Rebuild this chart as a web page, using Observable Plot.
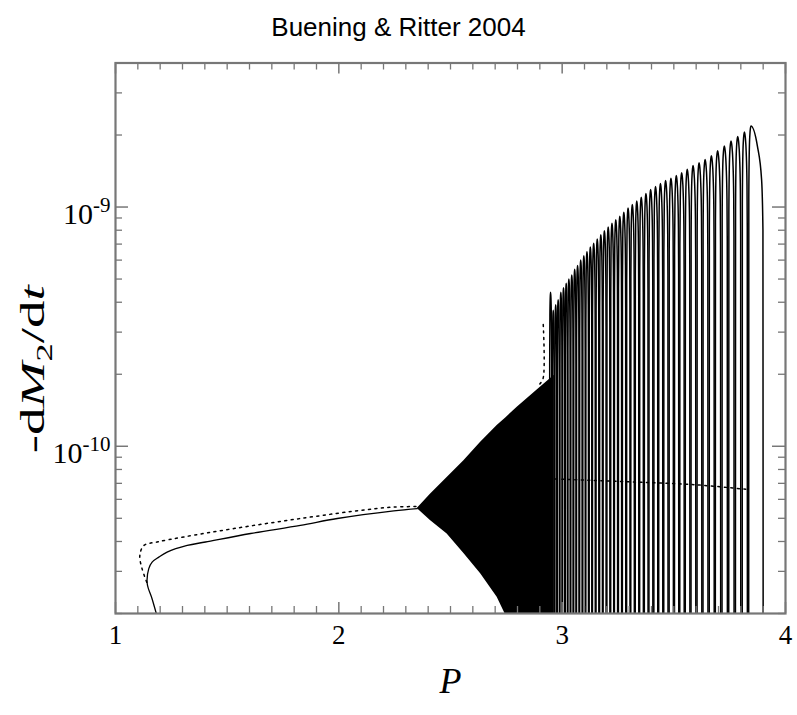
<!DOCTYPE html>
<html><head><meta charset="utf-8">
<script src="https://cdn.jsdelivr.net/npm/d3@7"></script>
<script src="https://cdn.jsdelivr.net/npm/@observablehq/plot@0.6"></script>
<style>
body{margin:0;background:#fff;}
#title{width:797px;height:45px;box-sizing:border-box;padding-top:12px;font-family:"Liberation Sans",Arial,sans-serif;font-size:26px;line-height:30px;text-align:center;color:#000;}
#chart svg{display:block;}
</style></head><body>
<div id="title"></div>
<div id="chart"></div>
<script>
// ---------- texts ----------
const titleText = "Buening & Ritter 2004";
const xLabel = "P";
const yLabel = "-dM2/dt";

// ---------- axes ----------
const xMajorTicks = [1, 2, 3, 4];
const xTickLabels = ["1", "2", "3", "4"];
const xMinorTicks = [1.1,1.2,1.3,1.4,1.5,1.6,1.7,1.8,1.9,2.1,2.2,2.3,2.4,2.5,2.6,2.7,2.8,2.9,3.1,3.2,3.3,3.4,3.5,3.6,3.7,3.8,3.9];
const yMajorTicks = [1e-10, 1e-9];
const yTickLabels = ["10^-10", "10^-9"];
const yMinorTicks = [2e-11,3e-11,4e-11,5e-11,6e-11,7e-11,8e-11,9e-11,2e-10,3e-10,4e-10,5e-10,6e-10,7e-10,8e-10,9e-10,2e-9,3e-9];
const yDomain = [2e-11, 4e-9];

// ---------- solid curve (stable branch, P < 2.35) ----------
const solidP = [1.186, 1.164, 1.142, 1.149, 1.164, 1.194, 1.231, 1.321, 1.403, 1.605, 1.828, 1.993, 2.246, 2.351];
const solidV = [1.95e-11, 2.3e-11, 2.67e-11, 3.08e-11, 3.28e-11, 3.44e-11, 3.61e-11, 3.85e-11, 3.98e-11, 4.32e-11, 4.67e-11, 4.99e-11, 5.37e-11, 5.49e-11];

// ---------- dotted curve (segments) ----------
const dottedP   = [1.140, 1.118, 1.109, 1.127, 1.186, 1.306, 1.530, 1.828, 2.127, 2.246, 2.351,   2.900, 2.915, 2.915,   2.970, 3.300, 3.600, 3.830];
const dottedV   = [2.7e-11, 3.1e-11, 3.5e-11, 3.85e-11, 3.98e-11, 4.18e-11, 4.53e-11, 4.99e-11, 5.44e-11, 5.57e-11, 5.6e-11,   1.82e-10, 1.93e-10, 3.27e-10,   7.3e-11, 7.1e-11, 6.9e-11, 6.6e-11];
const dottedSeg = ["a","a","a","a","a","a","a","a","a","a","a", "b","b","b", "c","c","c","c"];

// ---------- dense oscillation band (2.35 < P < 2.97) ----------
const denseP     = [2.351, 2.410, 2.485, 2.560, 2.635, 2.709, 2.746, 2.800, 2.888, 2.965];
const denseUpper = [5.49e-11, 6.3e-11, 7.4e-11, 8.7e-11, 1.04e-10, 1.22e-10, 1.31e-10, 1.46e-10, 1.72e-10, 1.98e-10];
const denseLower = [5.49e-11, 4.9e-11, 4.3e-11, 3.56e-11, 2.93e-11, 2.34e-11, 1.98e-11, 1.5e-11, 1.5e-11, 1.5e-11];

// ---------- limit-cycle outbursts (P > 2.94): peak positions and peak rates ----------
const peakP = [2.948, 2.960, 2.971, 2.982, 2.994, 3.006, 3.018, 3.030, 3.043, 3.056, 3.069, 3.083, 3.097, 3.111, 3.126, 3.141, 3.157, 3.173, 3.189, 3.206, 3.223, 3.240, 3.258, 3.276, 3.295, 3.314, 3.334, 3.354, 3.375, 3.396, 3.418, 3.440, 3.463, 3.487, 3.511, 3.535, 3.560, 3.586, 3.613, 3.640, 3.668, 3.696, 3.726, 3.756, 3.786, 3.816, 3.845];
const peakV = [4.4e-10, 3.7e-10, 3.9e-10, 4.1e-10, 4.4e-10, 4.6e-10, 4.8e-10, 5.0e-10, 5.2e-10, 5.5e-10, 5.7e-10, 6.0e-10, 6.25e-10, 6.5e-10, 6.8e-10, 7.05e-10, 7.35e-10, 7.65e-10, 7.95e-10, 8.25e-10, 8.55e-10, 8.85e-10, 9.15e-10, 9.5e-10, 9.9e-10, 1.025e-9, 1.06e-9, 1.10e-9, 1.14e-9, 1.185e-9, 1.22e-9, 1.255e-9, 1.29e-9, 1.32e-9, 1.355e-9, 1.39e-9, 1.44e-9, 1.49e-9, 1.53e-9, 1.58e-9, 1.64e-9, 1.72e-9, 1.80e-9, 1.89e-9, 1.97e-9, 2.06e-9, 2.18e-9];
// decline of the final outburst
const tailP = [3.874, 3.893, 3.899, 3.900];
const tailV = [1.8e-9, 1.3e-9, 8e-10, 1.5e-11];

// ---------- build tables ----------
const FLOOR = 1.5e-11; // below the axis bottom (clipped)
const archDX = [-0.34, -0.32, -0.24, -0.12, 0, 0.14, 0.28, 0.40, 0.44, 0.46];
const archK  = [0, 0.5, 0.8, 0.95, 1, 0.95, 0.82, 0.6, 0.4, 0];
const arches = [];
peakP.forEach((p, i) => {
  const v = peakV[i];
  const last = i === peakP.length - 1;
  const s = last ? p - peakP[i - 1] : peakP[i + 1] - p;
  archDX.forEach((dx, j) => {
    if (last && dx > 0) return;
    arches.push({c: i, p: p + dx * s, v: archK[j] ? v * archK[j] : FLOOR});
  });
  if (last) tailP.forEach((tp, j) => arches.push({c: i, p: tp, v: tailV[j]}));
});
const solid = solidP.map((p, i) => ({p, v: solidV[i]}));
const dotted = dottedP.map((p, i) => ({p, v: dottedV[i], seg: dottedSeg[i]}));
const dense = denseP.map((p, i) => ({p, lo: denseLower[i], hi: denseUpper[i]}));

const W = 797, H = 670, mT = 17.5, mB = 102, mL = 115, mR = 12;
const iW = W - mL - mR, iH = H - mT - mB;
const AX = "#777";

document.getElementById("title").textContent = titleText;

const plot = Plot.plot({
  width: W, height: H,
  marginTop: mT, marginBottom: mB, marginLeft: mL, marginRight: mR,
  x: {domain: [1, 4], axis: null},
  y: {type: "log", domain: yDomain, axis: null},
  style: {background: "white", fontFamily: "'Liberation Serif', 'Times New Roman', serif", color: "#000"},
  marks: [
    Plot.areaY(dense, {x: "p", y1: "lo", y2: "hi", fill: "#000", clip: true}),
    Plot.line(arches, {x: "p", y: "v", z: "c", curve: "monotone-x", stroke: "#000", strokeWidth: 1.5, clip: true}),
    Plot.line(solid, {x: "p", y: "v", curve: "catmull-rom", stroke: "#000", strokeWidth: 1.3, clip: true}),
    Plot.line(dotted, {x: "p", y: "v", z: "seg", curve: "catmull-rom", stroke: "#000", strokeWidth: 1.5, strokeDasharray: "2,4.5", clip: true}),
    // ticks (inward)
    Plot.ruleX(xMinorTicks, {x: d => d, insetTop: iH - 7, stroke: AX, strokeWidth: 1.3}),
    Plot.ruleX(xMinorTicks, {x: d => d, insetBottom: iH - 7, stroke: AX, strokeWidth: 1.3}),
    Plot.ruleX(xMajorTicks, {x: d => d, insetTop: iH - 11, stroke: AX, strokeWidth: 1.5}),
    Plot.ruleX(xMajorTicks, {x: d => d, insetBottom: iH - 11, stroke: AX, strokeWidth: 1.5}),
    Plot.ruleY(yMinorTicks, {y: d => d, insetRight: iW - 7, stroke: AX, strokeWidth: 1.3}),
    Plot.ruleY(yMinorTicks, {y: d => d, insetLeft: iW - 7, stroke: AX, strokeWidth: 1.3}),
    Plot.ruleY(yMajorTicks, {y: d => d, insetRight: iW - 13, stroke: AX, strokeWidth: 1.5}),
    Plot.ruleY(yMajorTicks, {y: d => d, insetLeft: iW - 13, stroke: AX, strokeWidth: 1.5}),
    Plot.frame({stroke: AX, strokeWidth: 2.2}),
    // tick labels
    Plot.text(xMajorTicks, {x: d => d, text: (d, i) => xTickLabels[i], frameAnchor: "bottom", dy: 30, fontSize: 27, fill: "#000"}),
    Plot.text(yMajorTicks, {y: d => d, text: (d, i) => yTickLabels[i], frameAnchor: "left", dx: -5, dy: 7, textAnchor: "end", fontSize: 30, fill: "#000"}),
    // axis titles
    Plot.text([xLabel], {text: d => d, frameAnchor: "bottom", dy: 79, fontSize: 36, fontStyle: "italic", fill: "#000"}),
    Plot.text([yLabel], {text: d => d, frameAnchor: "left", textAnchor: "middle", dx: -82, dy: 31, rotate: -90, fontSize: 34, fill: "#000"})
  ]
});

// rich text: superscripts / italics / subscripts
const NS = "http://www.w3.org/2000/svg";
function tspan(parent, txt, attrs) {
  const t = document.createElementNS(NS, "tspan");
  t.textContent = txt;
  for (const k in attrs) t.setAttribute(k, attrs[k]);
  parent.appendChild(t);
}
plot.querySelectorAll("text").forEach(t => {
  const s = t.textContent;
  if (yTickLabels.includes(s)) {
    const [b, e] = s.split("^");
    t.textContent = "";
    tspan(t, b, {});
    tspan(t, e, {dy: "-12", "font-size": "21"});
  } else if (s === yLabel) {
    t.textContent = "";
    tspan(t, "-d", {});
    tspan(t, "M", {"font-style": "italic"});
    tspan(t, "2", {"font-size": "23", dy: "8"});
    tspan(t, "/d", {dy: "-8"});
    tspan(t, "t", {"font-style": "italic"});
    t.setAttribute("textLength", "168");
    t.setAttribute("lengthAdjust", "spacingAndGlyphs");
  }
});
document.getElementById("chart").appendChild(plot);
</script>
</body></html>
